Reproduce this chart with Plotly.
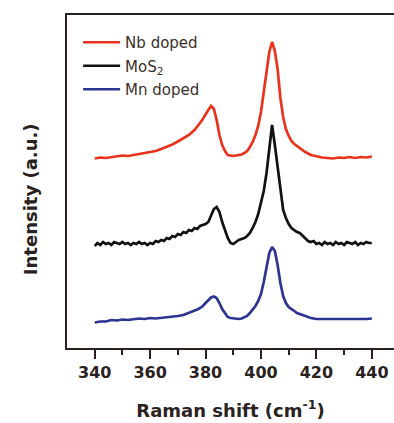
import plotly.graph_objects as go

# Raman shift (cm^-1) sample points and intensities (a.u., offset spectra)
x_nb = [340, 342, 344, 346, 348, 350, 352, 354, 356, 358, 360, 362, 364, 366, 368, 370, 372, 374, 376, 377, 378, 379, 380, 381, 382, 383, 384, 385, 386, 387, 388, 389, 390, 391, 392, 393, 394, 395, 396, 397, 398, 399, 400, 401, 402, 403, 404, 405, 406, 407, 408, 409, 410, 411, 412, 413, 414, 416, 418, 420, 422, 424, 426, 428, 430, 432, 434, 436, 438, 440]
y_nb = [189.5, 190.5, 190, 191, 191.5, 192.5, 192, 193, 194, 194.5, 195.5, 197, 199, 201, 203.5, 206.5, 210, 213, 218, 221, 225, 229, 234, 238, 242, 239, 228, 213, 203, 197, 193, 192.5, 192, 192.5, 193, 193.5, 195, 197, 201, 206, 213, 222, 236, 256, 276, 296, 306, 297, 279, 250, 231, 219, 212, 207, 204, 202, 200, 196, 193, 191.5, 190.5, 190, 189.5, 190.5, 190, 191, 190, 191, 190.5, 191.5]

x_mos2 = list(range(340, 441))
y_mos2 = [102, 105, 103, 106, 104, 105, 103, 106, 105, 104, 106, 104, 105, 103, 105, 104, 106, 104, 105, 103, 105, 104, 107, 106, 108, 107, 110, 109, 112, 111, 114, 113, 116, 115, 118, 117, 120, 119, 122, 123, 124, 126, 132, 139, 141, 136, 126, 118, 110, 105, 104, 106, 108, 109, 110, 112, 115, 120, 126, 134, 145, 157, 175, 200, 223, 203, 180, 155, 138, 130, 124, 120, 118, 116, 115, 112, 109, 107, 106, 107, 104, 105, 103, 106, 104, 105, 103, 106, 104, 105, 103, 106, 105, 104, 106, 103, 105, 104, 106, 105, 105]

x_mn = [340, 342, 344, 346, 348, 350, 352, 354, 356, 358, 360, 362, 364, 366, 368, 370, 372, 374, 376, 377, 378, 379, 380, 381, 382, 383, 384, 385, 386, 387, 388, 389, 390, 391, 392, 393, 394, 395, 396, 397, 398, 399, 400, 401, 402, 403, 404, 405, 406, 407, 408, 409, 410, 411, 412, 413, 414, 416, 418, 420, 422, 424, 426, 428, 430, 432, 434, 436, 438, 440]
y_mn = [25.5, 26.5, 26.5, 28, 27.5, 28.5, 28, 29, 29.5, 29, 30, 29.5, 30, 30.5, 31.5, 32, 33, 35, 37, 38.5, 40, 42, 45, 48, 50.5, 51.5, 50, 45, 39, 35, 31, 30, 29.5, 29, 29, 29.5, 30.5, 32, 35, 38, 42, 47, 54, 66, 81, 95, 101, 97, 83, 65, 52, 45, 41, 38.5, 37, 35, 34, 32, 30, 29, 29, 28.5, 29, 28.5, 29, 28.5, 29, 28.5, 29, 29.5]

series_names = ["Nb doped", "MoS<sub>2</sub>", "Mn doped"]
series_colors = ["#e8341c", "#111111", "#2d3592"]

x_tick_vals = [340, 360, 380, 400, 420, 440]
x_tick_text = ["340", "360", "380", "400", "420", "440"]
x_minor_vals = [350, 370, 390, 410, 430]

x_title = "Raman shift (cm<sup>-1</sup>)"
y_title = "Intensity (a.u.)"

axis_color = "#2a211c"
text_color = "#2a2220"
font_family = "DejaVu Sans, Verdana, sans-serif"

fig = go.Figure()
for i, (xs, ys) in enumerate([(x_nb, y_nb), (x_mos2, y_mos2), (x_mn, y_mn)]):
    fig.add_trace(go.Scatter(
        x=xs, y=ys, mode="lines", name=series_names[i],
        legendgroup=f"g{i}",
        line=dict(color=series_colors[i], width=2.7),
    ))

fig.update_layout(
    width=394, height=423,
    margin=dict(l=67, r=0, t=15, b=75),
    paper_bgcolor="white", plot_bgcolor="white",
    font=dict(family=font_family, color=text_color),
    showlegend=True,
    legend=dict(
        x=0.034, y=0.967, xanchor="left", yanchor="top",
        bgcolor="rgba(0,0,0,0)",
        font=dict(size=15, color="#3a302a", family=font_family),
        tracegroupgap=1,
        traceorder="grouped",
        itemwidth=37,
    ),
    xaxis=dict(
        range=[330, 448],
        tickvals=x_tick_vals, ticktext=x_tick_text,
        ticks="outside", ticklen=9, tickwidth=2, tickcolor=axis_color,
        minor=dict(tickvals=x_minor_vals, ticks="outside", ticklen=5, tickwidth=2, tickcolor=axis_color),
        showline=True, linecolor=axis_color, linewidth=2, mirror=True,
        showgrid=False, zeroline=False,
        tickfont=dict(size=16, family=font_family, color=text_color, weight="bold"),
        title=dict(text=x_title, font=dict(size=18, family=font_family, color=text_color, weight="bold"), standoff=23),
    ),
    xaxis2=dict(
        overlaying="x", side="top", matches="x", range=[330, 448],
        tickvals=x_tick_vals + x_minor_vals,
        ticks="inside", ticklen=9, tickwidth=2, tickcolor=axis_color,
        showticklabels=False, showline=False, showgrid=False, zeroline=False,
    ),
    yaxis=dict(
        range=[0, 333],
        showline=True, linecolor=axis_color, linewidth=2, mirror=False,
        showticklabels=False, ticks="", showgrid=False, zeroline=False,
    ),
    annotations=[dict(
        text=y_title, xref="paper", yref="paper", x=0, y=0.447,
        xshift=-37, xanchor="center", yanchor="middle", textangle=-90, showarrow=False,
        font=dict(size=18, family=font_family, color=text_color, weight="bold"),
    )],
)

fig.write_html("out.html")
